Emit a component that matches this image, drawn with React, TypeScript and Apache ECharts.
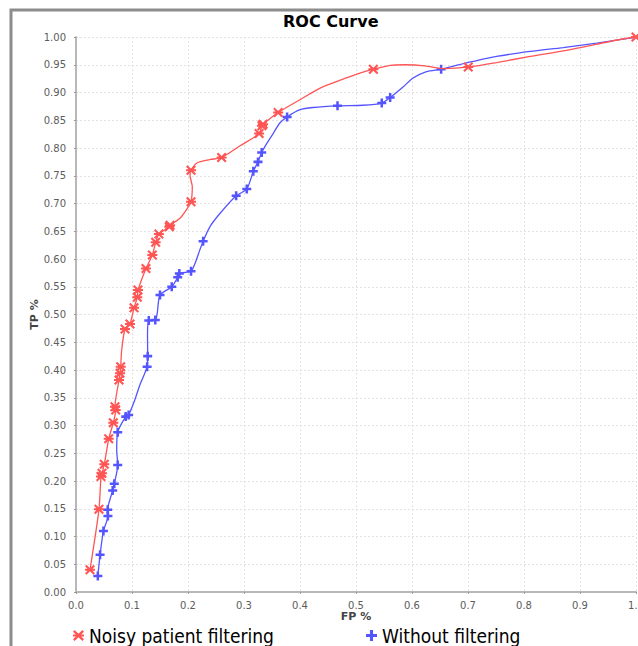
import React, { useEffect, useRef } from "react";
import * as echarts from "echarts";

// ---- data ----
const seriesNames = ["Noisy patient filtering", "Without filtering"];

// Noisy patient filtering (red); marker flag 1 = a marker is drawn at that point
const redFP = [0.025, 0.041, 0.0446, 0.0464, 0.0505, 0.0584, 0.0666, 0.0709, 0.0696, 0.0768, 0.0786, 0.0798, 0.0816, 0.0875, 0.0964, 0.1036, 0.1095, 0.1107, 0.125, 0.1363, 0.1423, 0.148, 0.1666, 0.168, 0.186, 0.198, 0.2054, 0.2077, 0.2036, 0.2054, 0.216, 0.239, 0.26, 0.293, 0.327, 0.332, 0.334, 0.361, 0.4, 0.436, 0.471, 0.507, 0.531, 0.561, 0.5875, 0.623, 0.659, 0.7005, 0.751, 0.811, 0.87, 0.93, 0.971, 1.0];
const redTP = [0.04, 0.149, 0.208, 0.214, 0.23, 0.276, 0.305, 0.328, 0.334, 0.382, 0.394, 0.406, 0.436, 0.474, 0.483, 0.512, 0.531, 0.544, 0.583, 0.607, 0.63, 0.645, 0.658, 0.661, 0.674, 0.69, 0.703, 0.73, 0.751, 0.76, 0.773, 0.779, 0.783, 0.804, 0.826, 0.84, 0.843, 0.864, 0.887, 0.908, 0.922, 0.935, 0.942, 0.949, 0.95, 0.948, 0.943, 0.946, 0.954, 0.965, 0.975, 0.987, 0.9955, 1.0];
const redMark = [1, 1, 1, 1, 1, 1, 1, 1, 1, 1, 1, 1, 0, 1, 1, 1, 1, 1, 1, 1, 1, 1, 1, 1, 0, 0, 1, 0, 0, 1, 0, 0, 1, 0, 1, 1, 1, 1, 0, 0, 0, 0, 1, 0, 0, 0, 0, 1, 0, 0, 0, 0, 0, 1];

// Without filtering (blue)
const blueFP = [0.039, 0.043, 0.049, 0.057, 0.0566, 0.0655, 0.0684, 0.0745, 0.0727, 0.0745, 0.0888, 0.094, 0.105, 0.114, 0.127, 0.128, 0.1277, 0.13, 0.1416, 0.145, 0.15, 0.171, 0.1816, 0.1845, 0.2054, 0.2125, 0.221, 0.227, 0.239, 0.257, 0.286, 0.305, 0.3166, 0.325, 0.3316, 0.3405, 0.352, 0.364, 0.377, 0.4, 0.423, 0.467, 0.5125, 0.546, 0.561, 0.584, 0.602, 0.626, 0.652, 0.692, 0.751, 0.811, 0.87, 0.93, 0.989, 1.0];
const blueTP = [0.029, 0.067, 0.11, 0.137, 0.148, 0.183, 0.195, 0.229, 0.256, 0.288, 0.316, 0.319, 0.346, 0.373, 0.406, 0.425, 0.463, 0.489, 0.49, 0.502, 0.535, 0.55, 0.567, 0.574, 0.578, 0.592, 0.616, 0.632, 0.658, 0.682, 0.714, 0.726, 0.758, 0.775, 0.792, 0.808, 0.826, 0.845, 0.856, 0.869, 0.873, 0.876, 0.877, 0.881, 0.891, 0.91, 0.926, 0.9375, 0.942, 0.952, 0.965, 0.974, 0.981, 0.989, 0.998, 1.0];
const blueMark = [1, 1, 1, 1, 1, 1, 1, 1, 0, 1, 1, 1, 0, 0, 1, 1, 0, 1, 1, 0, 1, 1, 1, 1, 1, 0, 0, 1, 0, 0, 1, 1, 1, 1, 1, 0, 0, 0, 1, 0, 0, 1, 0, 1, 1, 0, 0, 0, 1, 0, 0, 0, 0, 0, 0, 0];

const redColor = "#ff5555";
const blueColor = "#5555ff";

const starPath =
  "path://M0,1.5 L1.5,0 L5,3.5 L8.5,0 L10,1.5 L6.5,5 L10,8.5 L8.5,10 L5,6.5 L1.5,10 L0,8.5 L3.5,5 Z M0,4 L10,4 L10,6 L0,6 Z";
const plusPath =
  "path://M3.6,0 L6.4,0 L6.4,3.6 L10,3.6 L10,6.4 L6.4,6.4 L6.4,10 L3.6,10 L3.6,6.4 L0,6.4 L0,3.6 L3.6,3.6 Z";

function buildData(xs: number[], ys: number[], marks: number[]) {
  return xs.map((x, i) =>
    marks[i] ? { value: [x, ys[i]] } : { value: [x, ys[i]], symbol: "none" }
  );
}

export default function App() {
  const ref = useRef<HTMLDivElement>(null);
  useEffect(() => {
    if (!ref.current) return;
    const chart = echarts.init(ref.current, null, { renderer: "svg" });
    const font = "DejaVu Sans";
    const legendFont = "DejaVu Sans Condensed, DejaVu Sans";
    const axisLabel = { fontFamily: font, fontSize: 10, color: "#5c5c5c" };
    chart.setOption({
      animation: false,
      backgroundColor: "#ffffff",
      title: {
        text: "ROC Curve",
        left: 283,
        top: 13,
        padding: 0,
        textStyle: { fontFamily: font, fontSize: 16, fontWeight: "bold", color: "#000" },
      },
      legend: [
        {
          left: 73,
          top: 626,
          padding: 0,
          itemWidth: 11,
          itemHeight: 11,
          data: [{ name: seriesNames[0], icon: starPath }],
          textStyle: { fontFamily: legendFont, fontSize: 19, color: "#000" },
        },
        {
          left: 366,
          top: 626,
          padding: 0,
          itemWidth: 11,
          itemHeight: 11,
          data: [{ name: seriesNames[1], icon: plusPath }],
          textStyle: { fontFamily: legendFont, fontSize: 19, color: "#000" },
        },
      ],
      graphic: [
        {
          type: "rect",
          shape: { x: 11, y: 10, width: 700, height: 700 },
          style: { fill: "none", stroke: "#8c8c8c", lineWidth: 3 },
          silent: true,
        },
      ],
      grid: {
        left: 76,
        right: 2,
        top: 37,
        bottom: 54,
        containLabel: false,
        outerBoundsMode: "none",
      },
      xAxis: {
        type: "value",
        min: 0,
        max: 1,
        interval: 0.1,
        offset: 3,
        name: "FP %",
        nameLocation: "middle",
        nameGap: 16,
        nameMoveOverlap: false,
        nameTextStyle: { fontFamily: font, fontSize: 11, fontWeight: "bold", color: "#444" },
        axisLine: { show: true, lineStyle: { color: "#b8b8b8", width: 2 } },
        axisTick: { show: true, length: 2, lineStyle: { color: "#999" } },
        axisLabel: { ...axisLabel, margin: 5, formatter: (v: number) => v.toFixed(1) },
        splitLine: { show: true, lineStyle: { color: "#e2e2e2", type: [2, 2], width: 1 } },
      },
      yAxis: {
        type: "value",
        min: 0,
        max: 1,
        interval: 0.05,
        offset: 4,
        name: "TP %",
        nameLocation: "middle",
        nameGap: 32,
        nameMoveOverlap: false,
        nameTextStyle: { fontFamily: font, fontSize: 11, fontWeight: "bold", color: "#444" },
        axisLine: { show: true, lineStyle: { color: "#b8b8b8", width: 2 } },
        axisTick: { show: true, length: 2, lineStyle: { color: "#999" } },
        axisLabel: { ...axisLabel, margin: 6, formatter: (v: number) => v.toFixed(2) },
        splitLine: { show: true, lineStyle: { color: "#e2e2e2", type: [2, 2], width: 1 } },
      },
      series: [
        {
          name: seriesNames[1],
          type: "line",
          smooth: 0.25,
          symbol: plusPath,
          symbolSize: 9,
          showSymbol: true,
          lineStyle: { color: blueColor, width: 1.3 },
          itemStyle: { color: blueColor },
          data: buildData(blueFP, blueTP, blueMark),
          z: 2,
        },
        {
          name: seriesNames[0],
          type: "line",
          smooth: 0.25,
          symbol: starPath,
          symbolSize: 10,
          showSymbol: true,
          lineStyle: { color: redColor, width: 1.3 },
          itemStyle: { color: redColor },
          data: buildData(redFP, redTP, redMark),
          z: 3,
        },
      ],
    });
    return () => chart.dispose();
  }, []);
  return (
    <div
      ref={ref}
      style={{ position: "absolute", left: 0, top: 0, width: 638, height: 646 }}
    />
  );
}
